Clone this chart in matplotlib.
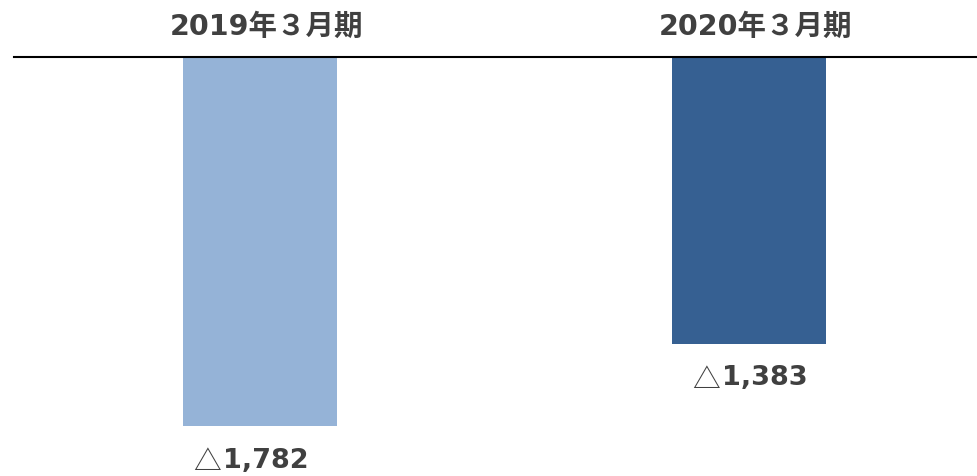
"""
two negative bars hanging from a zero line, with period headers above
"""

import matplotlib
matplotlib.use("Agg")
import matplotlib.pyplot as plt

plt.rcParams['font.family'] = ['DejaVu Sans', 'Noto Sans CJK JP']

periods = ["2019年３月期", "2020年３月期"]
values = [-1782, -1383]
value_labels = ["1,782", "1,383"]
neg_mark = "△"
bar_colors = ["#95b3d7", "#366092"]
text_color = "#404040"

fig = plt.figure(figsize=(9.77, 4.77), dpi=100)
# axes top edge is the zero line
ax = fig.add_axes([14 / 977, 0, 1 - 14 / 977, 419 / 477])

x_pos = list(range(len(periods)))
ax.bar(x_pos, values, width=0.315, color=bar_colors)

ax.set_xlim(-0.503, 1.466)
ax.set_ylim(-2022, 0)

for side in ["left", "right", "bottom"]:
    ax.spines[side].set_visible(False)
ax.spines["top"].set_linewidth(1.5)
ax.spines["top"].set_color("black")
ax.set_xticks([])
ax.set_yticks([])

# period headers above the zero line
for x, name in zip(x_pos, periods):
    ax.text(x + 0.014, 1.075, name, transform=ax.get_xaxis_transform(),
            ha="center", va="center", fontsize=20.5, fontweight="bold",
            color=text_color)

# value labels under each bar: thin triangle mark + bold number,
# both sitting on about the same baseline
nudges = [-8.5, -1.5]   # small per-label horizontal shifts (points)
base_dy = -29           # baseline distance below bar end (points)
for x, val, lab, dx in zip(x_pos, values, value_labels, nudges):
    ax.annotate(neg_mark, xy=(x, val), xytext=(-19.5 + dx, base_dy - 2),
                textcoords="offset points", ha="right", va="baseline",
                fontsize=20, family=["Noto Sans CJK JP"], color=text_color)
    ax.annotate(lab, xy=(x, val), xytext=(-18 + dx, base_dy),
                textcoords="offset points", ha="left", va="baseline",
                fontsize=19.5, fontweight="bold", color=text_color)

fig.savefig("out.png", dpi=100)
